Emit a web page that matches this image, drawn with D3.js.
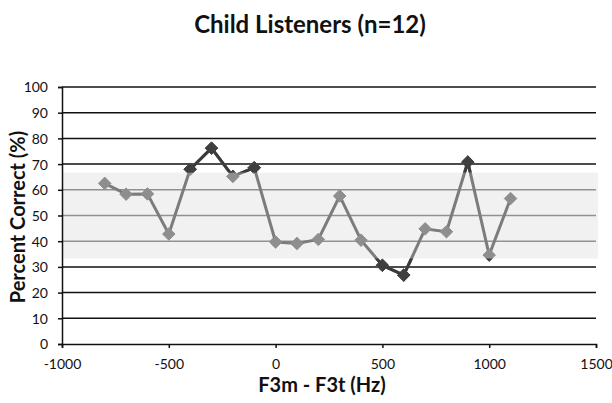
<!DOCTYPE html>
<html>
<head>
<meta charset="utf-8">
<script src="https://cdn.jsdelivr.net/npm/d3@7"></script>
<style>
  body { margin: 0; background: #fff; }
  text { font-family: Lato, "Open Sans", sans-serif; }
</style>
</head>
<body>
<div id="chart"></div>
<script>
var svgWidth = 612;
var svgHeight = 403;

// F3m - F3t offsets (Hz) and percent correct
var offsets = [-800, -700, -600, -500, -400, -300, -200, -100, 0, 100, 200, 300, 400, 500, 600, 700, 800, 900, 1000, 1100];
var percentCorrect = [62.5, 58.3, 58.4, 42.8, 68, 76.2, 65.2, 68.6, 39.7, 39.1, 40.7, 57.6, 40.4, 30.6, 26.8, 44.8, 43.7, 70.8, 34.6, 56.6];

// shaded band (chance range)
var bandRange = [33.3, 66.7];

var xTicks = [-1000, -500, 0, 500, 1000, 1500];
var yTicks = [0, 10, 20, 30, 40, 50, 60, 70, 80, 90, 100];

var margin = { top: 87, right: 16, bottom: 59, left: 62 };
var width = 596 - margin.left;
var height = 344 - margin.top;

var data = offsets.map((d, i) => ({ x: d, y: percentCorrect[i] }));

var svg = d3.select("#chart").append("svg")
    .attr("width", svgWidth)
    .attr("height", svgHeight);

var chartGroup = svg.append("g")
    .attr("transform", `translate(${margin.left}, ${margin.top})`);

var xLinearScale = d3.scaleLinear().domain([-1000, 1500]).range([0, width]);
var yLinearScale = d3.scaleLinear().domain([0, 100]).range([height, 0]);

// gridlines
chartGroup.selectAll(".grid")
    .data(yTicks.filter(d => d > 0))
    .enter()
    .append("line")
    .attr("x1", 0)
    .attr("x2", width)
    .attr("y1", d => yLinearScale(d))
    .attr("y2", d => yLinearScale(d))
    .attr("stroke", "#111")
    .attr("stroke-width", 1.5);

// band over the gridlines
chartGroup.append("rect")
    .attr("x", 1)
    .attr("width", width + 1)
    .attr("y", yLinearScale(bandRange[1]))
    .attr("height", yLinearScale(bandRange[0]) - yLinearScale(bandRange[1]))
    .attr("fill", "rgb(232,232,232)")
    .attr("opacity", 0.6);

// axes (plain hyphen minus, no thousands separator)
var fmt = d => String(d);
var bottomAxis = d3.axisBottom(xLinearScale).tickValues(xTicks).tickFormat(fmt).tickSize(4).tickPadding(11);
var leftAxis = d3.axisLeft(yLinearScale).tickValues(yTicks).tickFormat(fmt).tickSize(4).tickPadding(10);

var xAxis = chartGroup.append("g")
    .attr("transform", `translate(0, ${height})`)
    .call(bottomAxis);
var yAxis = chartGroup.append("g").call(leftAxis);

[xAxis, yAxis].forEach(function (ax) {
    ax.select(".domain").attr("stroke", "#111").attr("stroke-width", 1.5);
    ax.selectAll(".tick line").attr("stroke", "#111").attr("stroke-width", 1.5);
    ax.selectAll(".tick text")
        .attr("fill", "#111")
        .style("font-size", "14px")
        .style("font-family", "Lato, sans-serif");
});
yAxis.selectAll(".tick text").attr("dy", "0.35em");

// clip regions outside the band, where marks are drawn dark
var defs = svg.append("defs");
var clip = defs.append("clipPath").attr("id", "outside");
clip.append("rect")
    .attr("x", -20).attr("width", width + 40)
    .attr("y", -20).attr("height", yLinearScale(bandRange[1]) + 20);
clip.append("rect")
    .attr("x", -20).attr("width", width + 40)
    .attr("y", yLinearScale(bandRange[0])).attr("height", 100);

var line = d3.line()
    .x(d => xLinearScale(d.x))
    .y(d => yLinearScale(d.y));

var diamond = d3.symbol().type(d3.symbolDiamond2).size(100);

function drawSeries(g, lineColor, markColor) {
    g.append("path")
        .datum(data)
        .attr("d", line)
        .attr("fill", "none")
        .attr("stroke", lineColor)
        .attr("stroke-width", 3)
        .attr("stroke-linejoin", "round");

    g.selectAll(".pt")
        .data(data)
        .enter()
        .append("path")
        .attr("class", "pt")
        .attr("transform", d => `translate(${xLinearScale(d.x)}, ${yLinearScale(d.y)})`)
        .attr("d", diamond)
        .attr("fill", markColor)
        .attr("stroke", markColor)
        .attr("stroke-width", 1);
}

drawSeries(chartGroup.append("g"), "#7c7c7c", "#8e8e8e");
drawSeries(chartGroup.append("g").attr("clip-path", "url(#outside)"), "#3a3a3a", "#3f3f3f");

// title and axis labels
svg.append("text")
    .attr("x", 310)
    .attr("y", 33)
    .attr("text-anchor", "middle")
    .style("font-size", "24px")
    .style("font-weight", "bold")
    .attr("fill", "#111")
    .text("Child Listeners (n=12)");

svg.append("text")
    .attr("x", 322)
    .attr("y", 392)
    .attr("text-anchor", "middle")
    .style("font-size", "20px")
    .style("font-weight", "bold")
    .attr("fill", "#111")
    .text("F3m - F3t (Hz)");

svg.append("text")
    .attr("transform", "translate(25, 217) rotate(-90)")
    .attr("text-anchor", "middle")
    .style("font-size", "20px")
    .style("font-weight", "bold")
    .attr("fill", "#111")
    .text("Percent Correct (%)");
</script>
</body>
</html>
